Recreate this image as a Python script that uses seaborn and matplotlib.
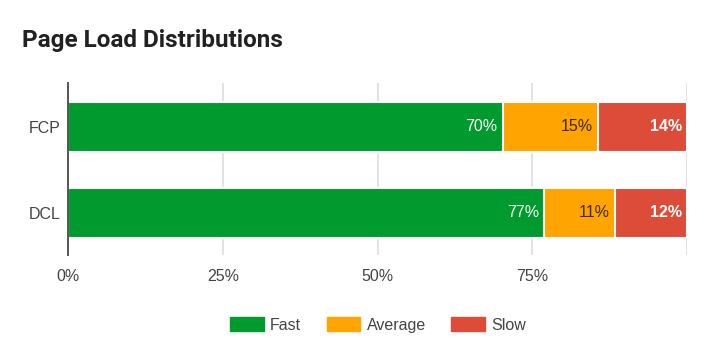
import numpy as np
import pandas as pd
import matplotlib
matplotlib.use("Agg")
import matplotlib.pyplot as plt
from matplotlib.patches import Patch
import seaborn as sns

metrics = ["FCP", "DCL"]
fast = [70.2, 76.9]
average = [15.4, 11.4]
slow = [14.4, 11.7]
fast_labels = ["70%", "77%"]
average_labels = ["15%", "11%"]
slow_labels = ["14%", "12%"]
series_names = ["Fast", "Average", "Slow"]
colors = ["#009a2e", "#ffa400", "#dd4b39"]
xticks = [0, 25, 50, 75]
xtick_labels = ["0%", "25%", "50%", "75%"]


def main():
    sns.set_theme(style="white")
    plt.rcParams["font.family"] = ["Liberation Sans", "DejaVu Sans"]

    df = pd.DataFrame({"metric": metrics, "Fast": fast, "Average": average, "Slow": slow})
    df["c_fast"] = df["Fast"]
    df["c_avg"] = df["Fast"] + df["Average"]
    df["c_slow"] = df["c_avg"] + df["Slow"]

    fig = plt.figure(figsize=(7.19, 3.59), dpi=100)
    ax = fig.add_axes([0.0946, 0.2897, 0.8609, 0.4791])

    for xv in [25, 50, 75, 100]:
        ax.axvline(xv, color="#e2e2e2", lw=1.4, zorder=0)

    # overlay cumulative bars, largest first
    for col, c in zip(["c_slow", "c_avg", "c_fast"], colors[::-1]):
        sns.barplot(data=df, x=col, y="metric", order=metrics, color=c,
                    width=0.58, edgecolor="white", linewidth=1.5,
                    saturation=1, ax=ax, zorder=2)

    fs = 11.5
    for i in range(len(metrics)):
        ax.text(df["c_fast"][i] - 0.8, i, fast_labels[i], ha="right", va="center",
                color="white", fontsize=fs, zorder=3)
        ax.text(df["c_avg"][i] - 0.8, i, average_labels[i], ha="right", va="center",
                color="#3d2a00", fontsize=fs, zorder=3)
        ax.text(df["c_slow"][i] - 0.8, i, slow_labels[i], ha="right", va="center",
                color="white", fontsize=fs, fontweight="bold", zorder=3)

    ax.set_xlim(0, 100)
    ax.set_ylim(1.49, -0.51)
    ax.set_xticks(xticks)
    ax.set_xticklabels(xtick_labels)
    ax.set_xlabel("")
    ax.set_ylabel("")
    ax.tick_params(axis="both", length=0, labelsize=fs, colors="#444444")
    ax.tick_params(axis="x", pad=10)
    ax.tick_params(axis="y", pad=5)
    for s in ["top", "right", "bottom"]:
        ax.spines[s].set_visible(False)
    ax.spines["left"].set_color("#555555")
    ax.spines["left"].set_linewidth(1.4)
    ax.spines["left"].set_zorder(4)

    fig.text(22 / 719, 1 - 40 / 359, "Page Load Distributions", fontsize=17.5,
             fontweight="bold", color="#212121", family=["Roboto", "DejaVu Sans"],
             va="center", ha="left")

    handles = [Patch(facecolor=c, edgecolor=c, label=n) for n, c in zip(series_names, colors)]
    fig.legend(handles=handles, loc="center", bbox_to_anchor=(378 / 719, 1 - 325 / 359),
               ncol=3, frameon=False, fontsize=fs, handlelength=2.1, handleheight=1.0,
               columnspacing=1.6, handletextpad=0.4, labelcolor="#444444")

    fig.savefig("out.png", dpi=100)


if __name__ == "__main__":
    main()
